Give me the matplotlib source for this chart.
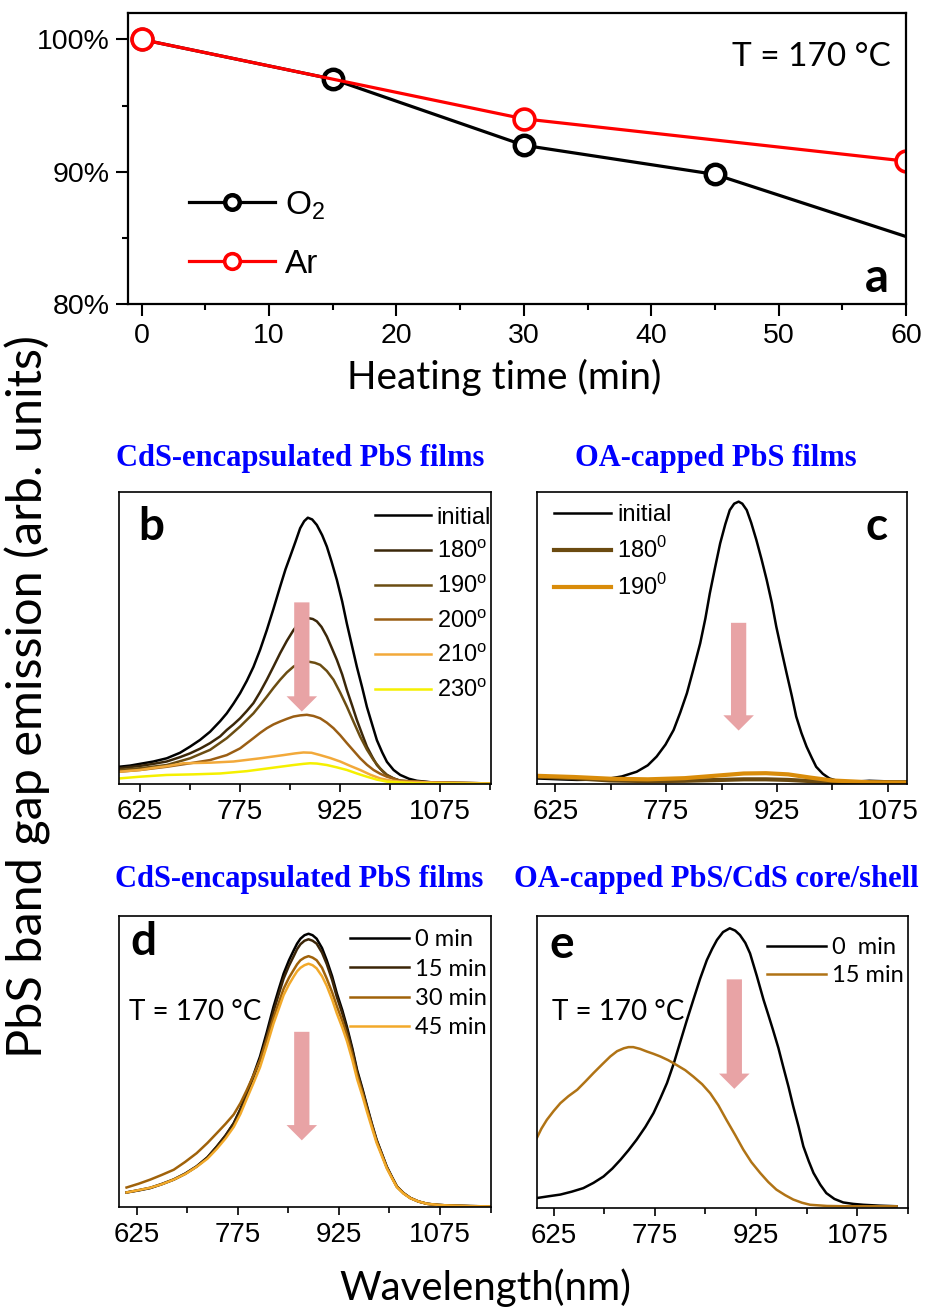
import numpy as np
import matplotlib
matplotlib.use('Agg')
import matplotlib.pyplot as plt
from matplotlib.ticker import MultipleLocator, FixedLocator

plt.rcParams['font.family'] = ['Liberation Sans', 'DejaVu Sans']
plt.rcParams['mathtext.fontset'] = 'custom'
plt.rcParams['mathtext.rm'] = 'Liberation Sans'
plt.rcParams['axes.unicode_minus'] = False

# ---- panel a: relative emission vs heating time ----
t_o2 = [0, 15, 30, 45, 60]
pl_o2 = [100, 97.0, 92.0, 89.8, 85.1]
t_ar = [0, 30, 60]
pl_ar = [100, 94.0, 90.8]

# ---- panel b: CdS-encapsulated PbS, annealing temperature ----
wl_b0 = [593.5, 610, 625, 645, 665, 685, 700, 715, 730, 745, 755, 765, 775, 785, 795,
         805, 815, 825, 835, 843, 850, 858, 865, 871, 876.5, 883, 890, 898, 905, 912,
         920, 928, 935, 943, 950, 958, 965, 973, 980, 988, 995, 1005, 1015, 1028, 1040,
         1065, 1100, 1151]
b_init = [0.059, 0.063, 0.069, 0.077, 0.088, 0.107, 0.128, 0.151, 0.179, 0.215, 0.242,
          0.275, 0.311, 0.353, 0.401, 0.460, 0.527, 0.600, 0.676, 0.735, 0.779, 0.830,
          0.876, 0.900, 0.912, 0.906, 0.887, 0.852, 0.813, 0.762, 0.699, 0.625, 0.549,
          0.470, 0.401, 0.330, 0.264, 0.203, 0.150, 0.108, 0.076, 0.048, 0.031, 0.018,
          0.011, 0.005, 0.003, 0.002]
wl_b1 = [593.5, 625, 645, 665, 685, 700, 715, 730, 745, 755, 765, 775, 785, 795, 805,
         815, 825, 835, 845, 855, 863, 870, 877.5, 884, 890, 897, 905, 912, 920, 928,
         935, 943, 950, 958, 965, 973, 980, 988, 995, 1005, 1015, 1040, 1065, 1151]
b_180 = [0.054, 0.062, 0.069, 0.077, 0.092, 0.105, 0.121, 0.140, 0.163, 0.185, 0.204,
         0.225, 0.250, 0.277, 0.315, 0.357, 0.402, 0.448, 0.490, 0.527, 0.550, 0.562,
         0.568, 0.565, 0.557, 0.538, 0.505, 0.468, 0.425, 0.375, 0.322, 0.268, 0.219,
         0.170, 0.128, 0.093, 0.065, 0.045, 0.031, 0.019, 0.011, 0.007, 0.005, 0.002]
wl_b2 = [593.5, 625, 665, 700, 730, 755, 775, 795, 805, 815, 825, 835, 845, 855, 865,
         877.5, 887, 895, 905, 915, 925, 935, 945, 955, 965, 975, 985, 995, 1005, 1015,
         1065, 1151]
b_190 = [0.048, 0.054, 0.065, 0.088, 0.117, 0.157, 0.197, 0.242, 0.270, 0.299, 0.329,
         0.357, 0.382, 0.402, 0.414, 0.419, 0.415, 0.408, 0.387, 0.357, 0.313, 0.265,
         0.213, 0.162, 0.118, 0.082, 0.053, 0.031, 0.019, 0.011, 0.005, 0.002]
wl_b3 = [593.5, 625, 665, 700, 730, 755, 775, 795, 805, 815, 825, 835, 845, 855, 865,
         875, 885, 895, 905, 915, 925, 935, 945, 955, 965, 975, 985, 995, 1015, 1065,
         1151]
b_200 = [0.042, 0.048, 0.059, 0.071, 0.082, 0.099, 0.122, 0.157, 0.175, 0.191, 0.204,
         0.214, 0.223, 0.231, 0.235, 0.237, 0.233, 0.225, 0.210, 0.191, 0.167, 0.140,
         0.114, 0.088, 0.066, 0.048, 0.035, 0.025, 0.011, 0.005, 0.002]
wl_b4 = [593.5, 625, 645, 665, 690, 710, 730, 765, 805, 840, 858, 870, 882, 895, 910,
         925, 940, 955, 970, 985, 1000, 1015, 1065, 1151]
b_210 = [0.042, 0.048, 0.055, 0.061, 0.071, 0.072, 0.073, 0.077, 0.088, 0.099, 0.105,
         0.108, 0.107, 0.099, 0.089, 0.077, 0.062, 0.048, 0.032, 0.019, 0.012, 0.008,
         0.005, 0.002]
wl_b5 = [593.5, 625, 665, 705, 745, 785, 825, 855, 870, 880, 890, 905, 920, 935, 950,
         965, 980, 995, 1040, 1151]
b_230 = [0.019, 0.025, 0.031, 0.033, 0.036, 0.044, 0.056, 0.065, 0.069, 0.071, 0.070,
         0.065, 0.057, 0.048, 0.036, 0.025, 0.015, 0.008, 0.002, 0.0]

# ---- panel c: OA-capped PbS ----
wl_c0 = [600, 630, 654, 680, 699, 715, 735, 750, 762, 774, 785, 794, 803, 812, 821,
         828, 834, 841, 848, 855, 861, 867, 873, 878, 884, 890, 897, 904, 911, 918,
         924, 931, 938, 945, 951, 958, 965, 972, 978, 987, 996, 1005, 1014, 1030, 1050,
         1075, 1100]
c_init = [0.019, 0.016, 0.014, 0.015, 0.019, 0.026, 0.042, 0.064, 0.094, 0.135, 0.185,
          0.245, 0.311, 0.395, 0.482, 0.567, 0.653, 0.740, 0.824, 0.890, 0.938, 0.960,
          0.967, 0.960, 0.938, 0.895, 0.836, 0.770, 0.699, 0.620, 0.539, 0.458, 0.379,
          0.302, 0.231, 0.175, 0.128, 0.090, 0.059, 0.035, 0.019, 0.012, 0.008, 0.008,
          0.011, 0.009, 0.008]
wl_c1 = [600, 650, 700, 750, 800, 850, 880, 910, 940, 970, 1000, 1050, 1100]
c_180 = [0.025, 0.020, 0.012, 0.010, 0.011, 0.014, 0.016, 0.016, 0.014, 0.010, 0.007,
         0.005, 0.005]
c_190 = [0.028, 0.024, 0.018, 0.016, 0.020, 0.030, 0.036, 0.037, 0.033, 0.022, 0.012,
         0.006, 0.005]

# ---- panel d: CdS-encapsulated PbS, time at 170 C ----
wl_d = [610, 628, 645, 662, 680, 697, 714, 730, 744, 757, 769, 779, 788, 798, 808,
        818, 828, 836, 843, 851, 858, 863, 868, 874, 880, 886, 892, 900, 907, 915,
        922, 930, 937, 945, 952, 960, 967, 974, 981, 989, 996, 1004, 1011, 1021, 1031,
        1043, 1056, 1073, 1090, 1120, 1151]
d_0 = [0.050, 0.057, 0.065, 0.078, 0.094, 0.114, 0.139, 0.170, 0.208, 0.246, 0.288,
       0.337, 0.391, 0.452, 0.517, 0.600, 0.688, 0.750, 0.802, 0.848, 0.882, 0.905,
       0.922, 0.934, 0.939, 0.934, 0.922, 0.890, 0.848, 0.793, 0.734, 0.677, 0.619,
       0.545, 0.471, 0.406, 0.345, 0.286, 0.231, 0.182, 0.139, 0.102, 0.071, 0.048,
       0.031, 0.019, 0.011, 0.007, 0.005, 0.003, 0.002]
d_15 = [0.050, 0.058, 0.066, 0.079, 0.095, 0.115, 0.140, 0.171, 0.208, 0.246, 0.287,
        0.334, 0.385, 0.444, 0.505, 0.587, 0.672, 0.733, 0.785, 0.829, 0.862, 0.886,
        0.903, 0.915, 0.920, 0.915, 0.905, 0.874, 0.835, 0.780, 0.722, 0.666, 0.610,
        0.538, 0.465, 0.401, 0.340, 0.282, 0.228, 0.180, 0.137, 0.101, 0.070, 0.047,
        0.031, 0.019, 0.011, 0.007, 0.005, 0.003, 0.002]
d_30 = [0.067, 0.080, 0.094, 0.110, 0.128, 0.155, 0.185, 0.220, 0.254, 0.286, 0.318,
        0.357, 0.400, 0.451, 0.505, 0.575, 0.650, 0.703, 0.750, 0.788, 0.815, 0.834,
        0.848, 0.857, 0.862, 0.857, 0.848, 0.822, 0.785, 0.738, 0.690, 0.640, 0.590,
        0.523, 0.455, 0.393, 0.335, 0.280, 0.226, 0.178, 0.136, 0.100, 0.070, 0.047,
        0.031, 0.019, 0.011, 0.007, 0.005, 0.003, 0.002]
d_45 = [0.050, 0.058, 0.066, 0.078, 0.094, 0.113, 0.138, 0.166, 0.200, 0.236, 0.275,
        0.320, 0.370, 0.424, 0.480, 0.553, 0.630, 0.682, 0.728, 0.765, 0.792, 0.810,
        0.822, 0.831, 0.836, 0.831, 0.820, 0.793, 0.760, 0.713, 0.665, 0.617, 0.570,
        0.505, 0.440, 0.381, 0.325, 0.272, 0.220, 0.174, 0.133, 0.098, 0.068, 0.046,
        0.030, 0.019, 0.011, 0.007, 0.005, 0.003, 0.002]

# ---- panel e: OA-capped PbS/CdS core/shell ----
wl_e0 = [600, 617, 635, 652, 669, 684, 699, 712, 724, 736, 748, 761, 773, 783, 793,
         803, 812, 822, 832, 842, 852, 860, 867, 876, 886, 894, 901, 909, 916, 926,
         936, 943, 950, 958, 965, 973, 980, 988, 995, 1003, 1010, 1020, 1029, 1041,
         1054, 1069, 1084, 1108, 1133]
e_0 = [0.034, 0.040, 0.046, 0.056, 0.068, 0.086, 0.108, 0.135, 0.165, 0.198, 0.234,
       0.278, 0.325, 0.375, 0.428, 0.495, 0.564, 0.640, 0.713, 0.785, 0.849, 0.888,
       0.918, 0.945, 0.958, 0.950, 0.935, 0.908, 0.872, 0.795, 0.713, 0.662, 0.610,
       0.548, 0.485, 0.415, 0.348, 0.278, 0.211, 0.160, 0.120, 0.080, 0.051, 0.031,
       0.019, 0.014, 0.011, 0.008, 0.006]
wl_e15 = [600, 607, 615, 625, 635, 647, 660, 672, 684, 697, 709, 719, 729, 736, 743,
          753, 763, 773, 783, 795, 807, 820, 832, 845, 857, 869, 881, 894, 906, 918,
          931, 943, 955, 968, 980, 993, 1005, 1030, 1054, 1133]
e_15 = [0.239, 0.272, 0.302, 0.332, 0.359, 0.383, 0.405, 0.433, 0.462, 0.492, 0.519,
        0.537, 0.547, 0.551, 0.551, 0.545, 0.536, 0.528, 0.519, 0.506, 0.490, 0.472,
        0.450, 0.424, 0.393, 0.352, 0.302, 0.250, 0.200, 0.157, 0.120, 0.089, 0.063,
        0.044, 0.029, 0.018, 0.011, 0.007, 0.006, 0.006]

W, H = 925, 1316
fig = plt.figure(figsize=(W / 100, H / 100), dpi=100)


def add_ax(l, r, t, b):
    return fig.add_axes([l / W, 1 - b / H, (r - l) / W, (b - t) / H])


arrow_col = '#e8a3a5'
lato = ['Lato', 'DejaVu Sans']

# panel a
ax = add_ax(128, 906, 13, 304)
ax.plot(t_o2, pl_o2, '-o', color='black', lw=2.3, ms=14, mew=3.2, mfc='white',
        markevery=[0, 1, 2, 3], label=r'O$_{\rm 2}$')
ax.plot(t_ar, pl_ar, '-o', color='#ff0000', lw=2.3, ms=15, mew=2.6, mfc='white',
        label='Ar')
ax.set_xlim(-1.07, 60)
ax.set_ylim(80, 102)
ax.xaxis.set_major_locator(MultipleLocator(10))
ax.xaxis.set_minor_locator(MultipleLocator(5))
ax.yaxis.set_major_locator(FixedLocator([80, 90, 100]))
ax.yaxis.set_minor_locator(FixedLocator([85, 95]))
ax.set_yticklabels(['80%', '90%', '100%'])
ax.tick_params(which='both', direction='out', width=1.5, labelsize=20.5, pad=5)
ax.tick_params(which='major', length=8.5)
ax.tick_params(which='minor', length=4.5)
for s in ax.spines.values():
    s.set_linewidth(1.6)
ax.legend(loc='upper left', bbox_to_anchor=(0.078, 0.395), frameon=False,
          fontsize=24, handlelength=2.6, handletextpad=0.3, labelspacing=0.82,
          borderpad=0, borderaxespad=0, markerscale=0.75)
ax.text(0.878, 0.849, 'T = 170 °C', transform=ax.transAxes, ha='center', va='center',
        fontsize=24, family=lato)
ax.text(0.963, 0.041, 'a', transform=ax.transAxes, ha='center', va='baseline',
        fontsize=34, fontweight='bold', family=lato)
ax.set_xlabel('Heating time (min)', fontsize=28, family=lato)
ax.xaxis.set_label_coords(0.483, -0.19)


def style_spec(ax, xmin, xmax):
    ax.set_xlim(xmin, xmax)
    ax.set_ylim(0, 1)
    ax.xaxis.set_major_locator(FixedLocator([625, 775, 925, 1075]))
    ax.xaxis.set_minor_locator(FixedLocator([700, 850, 1000, 1150]))
    ax.set_yticks([])
    ax.tick_params(which='both', direction='out', width=1.2, labelsize=20, pad=5)
    ax.tick_params(which='major', length=6)
    ax.tick_params(which='minor', length=4)
    for s in ax.spines.values():
        s.set_linewidth(1.2)


def down_arrow(ax, x, ytop, ytip):
    ax.annotate('', xy=(x, ytip), xytext=(x, ytop),
                arrowprops=dict(arrowstyle='simple,tail_width=0.55,head_width=1.1,head_length=0.55',
                                mutation_scale=20, color=arrow_col, lw=0,
                                shrinkA=0, shrinkB=0), zorder=5)


sup = r'$^{\rm o}$'
sup0 = r'$^{\rm 0}$'

# panel b
ax = add_ax(119, 491, 492, 784)
ax.plot(wl_b0, b_init, color='black', lw=1.8, label='initial')
ax.plot(wl_b1, b_180, color='#3b2709', lw=1.8, label='180' + sup)
ax.plot(wl_b2, b_190, color='#6b4d12', lw=1.8, label='190' + sup)
ax.plot(wl_b3, b_200, color='#9a5e14', lw=1.8, label='200' + sup)
ax.plot(wl_b4, b_210, color='#f2a93a', lw=1.8, label='210' + sup)
ax.plot(wl_b5, b_230, color='#f5f000', lw=1.8, label='230' + sup)
style_spec(ax, 593.5, 1151)
down_arrow(ax, 867.5, 0.622, 0.248)
ax.legend(loc='upper right', bbox_to_anchor=(1.0, 0.95), frameon=False, fontsize=17,
          handlelength=2.35, handletextpad=0.25, labelspacing=0.5, borderpad=0,
          borderaxespad=0)
ax.text(0.087, 0.836, 'b', transform=ax.transAxes, ha='center', va='baseline',
        fontsize=33, fontweight='bold', family=lato)

# panel c
ax = add_ax(537, 907, 492, 784)
ax.plot(wl_c0, c_init, color='black', lw=1.8, label='initial')
ax.plot(wl_c1, c_180, color='#6b4a10', lw=3.0, label='180' + sup0)
ax.plot(wl_c1, c_190, color='#d98c0a', lw=3.0, label='190' + sup0)
style_spec(ax, 600, 1101)
down_arrow(ax, 873, 0.552, 0.183)
ax.legend(loc='upper left', bbox_to_anchor=(0.045, 0.958), frameon=False, fontsize=17,
          handlelength=2.45, handletextpad=0.25, labelspacing=0.47, borderpad=0,
          borderaxespad=0)
ax.text(0.919, 0.836, 'c', transform=ax.transAxes, ha='center', va='baseline',
        fontsize=33, fontweight='bold', family=lato)

# panel d
ax = add_ax(119, 491, 916, 1207)
ax.plot(wl_d, d_0, color='black', lw=1.8, label='0 min')
ax.plot(wl_d, d_15, color='#3b2508', lw=1.8, label='15 min')
ax.plot(wl_d, d_30, color='#a0620a', lw=1.8, label='30 min')
ax.plot(wl_d, d_45, color='#f2a92a', lw=1.8, label='45 min')
style_spec(ax, 598.8, 1150.7)
down_arrow(ax, 870, 0.602, 0.229)
ax.legend(loc='upper left', bbox_to_anchor=(0.622, 0.954), frameon=False,
          prop={'family': lato, 'size': 17}, handlelength=2.5, handletextpad=0.25,
          labelspacing=0.35, borderpad=0, borderaxespad=0)
ax.text(0.206, 0.670, 'T = 170 °C', transform=ax.transAxes, ha='center', va='center',
        fontsize=20, family=lato)
ax.text(0.066, 0.866, 'd', transform=ax.transAxes, ha='center', va='baseline',
        fontsize=33, fontweight='bold', family=lato)

# panel e
ax = add_ax(537, 908, 916, 1208)
ax.plot(wl_e0, e_0, color='black', lw=1.8, label='0  min')
ax.plot(wl_e15, e_15, color='#b07315', lw=1.8, label='15 min')
style_spec(ax, 600.4, 1150)
down_arrow(ax, 892.7, 0.783, 0.408)
ax.legend(loc='upper left', bbox_to_anchor=(0.62, 0.928), frameon=False,
          prop={'family': lato, 'size': 17}, handlelength=2.5, handletextpad=0.25,
          labelspacing=0.31, borderpad=0, borderaxespad=0)
ax.text(0.218, 0.671, 'T = 170 °C', transform=ax.transAxes, ha='center', va='center',
        fontsize=20, family=lato)
ax.text(0.066, 0.856, 'e', transform=ax.transAxes, ha='center', va='baseline',
        fontsize=33, fontweight='bold', family=lato)

# panel titles
tfont = dict(family=['Liberation Serif', 'DejaVu Serif'], fontweight='bold',
             fontsize=22, color='#0000ff', ha='center', va='baseline')
fig.text(300 / W, 1 - 466 / H, 'CdS-encapsulated PbS films', **tfont)
fig.text(716 / W, 1 - 466 / H, 'OA-capped PbS films', **tfont)
fig.text(299 / W, 1 - 887 / H, 'CdS-encapsulated PbS films', **tfont)
fig.text(716 / W, 1 - 887 / H, 'OA-capped PbS/CdS core/shell', **tfont)

fig.text(485 / W, 1 - 1288 / H, 'Wavelength(nm)', fontsize=29, family=lato,
         ha='center', va='center')
fig.text(28 / W, 1 - 696 / H, 'PbS band gap emission (arb. units)', fontsize=35,
         family=lato, rotation=90, ha='center', va='center')

plt.savefig('out.png', dpi=100)
plt.close('all')
